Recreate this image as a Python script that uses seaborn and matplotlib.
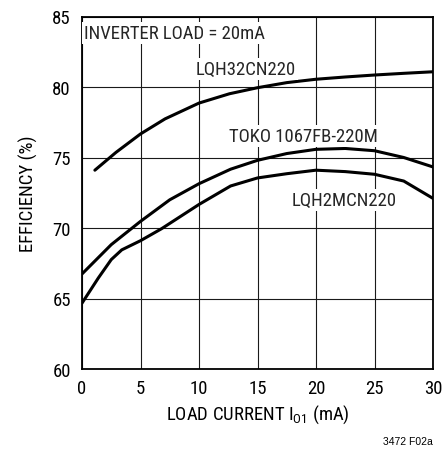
import numpy as np
import pandas as pd
import matplotlib
matplotlib.use("Agg")
import matplotlib.pyplot as plt
import seaborn as sns

# Data
lqh32_x = [1.1, 2.9, 5, 7.1, 10, 12.6, 15, 17.5, 20, 22.5, 25, 27.5, 30]
lqh32_y = [74.1, 75.36, 76.67, 77.74, 78.86, 79.52, 79.95, 80.31, 80.55, 80.71, 80.85, 80.97, 81.08]

toko_x = [0, 2.5, 5, 7.5, 10, 12.7, 15, 17.5, 20, 22.5, 25, 27.5, 30]
toko_y = [66.74, 68.82, 70.47, 72.0, 73.14, 74.17, 74.8, 75.28, 75.58, 75.64, 75.48, 75.0, 74.33]

lqh2m_x = [0, 1.4, 2.5, 3.4, 5, 6.8, 10, 12.7, 15, 17.5, 20, 22.5, 25, 27.5, 30]
lqh2m_y = [64.67, 66.46, 67.76, 68.45, 69.1, 69.95, 71.67, 72.98, 73.55, 73.85, 74.1, 74.0, 73.81, 73.33, 72.1]

series_names = ["LQH32CN220", "TOKO 1067FB-220M", "LQH2MCN220"]

x_ticks = [0, 5, 10, 15, 20, 25, 30]
y_ticks = [60, 65, 70, 75, 80, 85]

df = pd.concat([
    pd.DataFrame({"x": lqh32_x, "y": lqh32_y, "series": series_names[0]}),
    pd.DataFrame({"x": toko_x, "y": toko_y, "series": series_names[1]}),
    pd.DataFrame({"x": lqh2m_x, "y": lqh2m_y, "series": series_names[2]}),
])

sns.set_theme(style="white")
plt.rcParams["font.family"] = ["Roboto Condensed", "Liberation Sans", "DejaVu Sans"]
plt.rcParams["mathtext.fontset"] = "custom"
plt.rcParams["mathtext.rm"] = "Roboto Condensed"

fs = 13.5

fig = plt.figure(figsize=(4.45, 4.52), dpi=100)
top_px, bot_px = 17.5, 370
ax = fig.add_axes([82 / 445, 1 - bot_px / 452, (433 - 82) / 445, (bot_px - top_px) / 452])

sns.lineplot(data=df, x="x", y="y", hue="series", units="series", estimator=None,
             palette=["black"] * 3, linewidth=2.2, legend=False, ax=ax, sort=False, zorder=3)

ax.set_xlim(0, 30)
ax.set_ylim(60, 85)
ax.set_xticks(x_ticks)
ax.set_yticks(y_ticks)
ax.grid(True, color="#1a1a1a", linewidth=0.8, zorder=0)
ax.set_axisbelow(True)
for s in ax.spines.values():
    s.set_color("black")
    s.set_linewidth(1.3)
ax.tick_params(axis="both", labelsize=fs, colors="black", length=0)
ax.tick_params(axis="x", pad=7)
ax.tick_params(axis="y", pad=8)

ax.set_xlabel(r"LOAD CURRENT I$_{\mathregular{O1}}$ (mA)", fontsize=fs, color="black", labelpad=4)
ax.set_ylabel("EFFICIENCY (%)", fontsize=fs, color="black", labelpad=10)

bbox = dict(facecolor="white", edgecolor="none", pad=1.5)
ax.text(0.17, 83.45, "INVERTER LOAD = 20mA", fontsize=fs, va="baseline", ha="left", bbox=bbox, zorder=4)
ax.text(9.74, 80.95, "LQH32CN220", fontsize=fs, va="baseline", ha="left", bbox=bbox, zorder=4)
ax.text(12.56, 76.2, "TOKO 1067FB-220M", fontsize=fs, va="baseline", ha="left", bbox=bbox, zorder=4)
ax.text(17.95, 71.62, "LQH2MCN220", fontsize=fs, va="baseline", ha="left", bbox=bbox, zorder=4)

fig.text(433 / 445, 1 - 442 / 452, "3472 F02a", fontsize=7.5, ha="right", va="center",
         color="black", family=["Liberation Sans", "DejaVu Sans"])

fig.savefig("out.png", dpi=100)
